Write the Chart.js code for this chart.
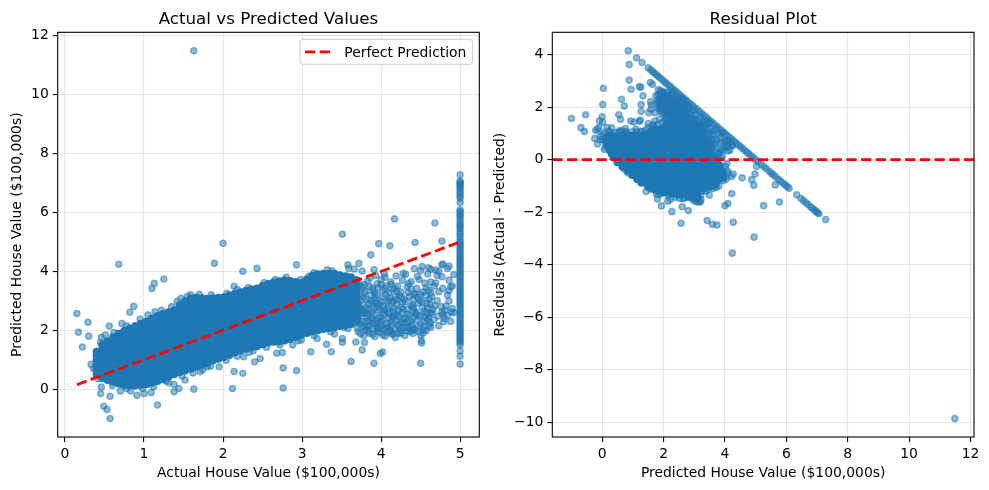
<!DOCTYPE html>
<html><head><meta charset="utf-8">
<script src="https://cdn.jsdelivr.net/npm/chart.js@4.4.1/dist/chart.umd.min.js"></script>
<style>html,body{margin:0;padding:0;background:#fff;overflow:hidden;width:989px;height:490px}
canvas{position:absolute;top:0}</style></head><body>
<canvas id="c1" width="484" height="490" style="left:0px"></canvas>
<canvas id="c2" width="505" height="490" style="left:484px"></canvas>
<script>
// ---------- DATA (values in $100,000s) ----------
// Dense cloud: each actual value column with the predicted values read in it
const bandActual = [0.40,0.47,0.54,0.61,0.68,0.75,0.82,0.89,0.96,1.03,1.10,1.17,1.24,1.31,1.38,1.45,1.52,1.59,1.66,1.73,1.80,1.87,1.94,2.01,2.08,2.15,2.22,2.29,2.36,2.43,2.50,2.57,2.64,2.71,2.78,2.85,2.92,2.99,3.06,3.13,3.20,3.27,3.34,3.41,3.48,3.55,3.62,3.69];
const bandPredicted = [
[0.50,0.66,0.82,0.98,1.14,1.27],
[0.38,0.54,0.70,0.86,1.02,1.18,1.34,1.50],
[0.31,0.47,0.63,0.79,0.95,1.11,1.27,1.45,1.63],
[0.25,0.41,0.57,0.73,0.89,1.05,1.21,1.37,1.53,1.69,1.76],
[0.19,0.35,0.51,0.67,0.83,0.99,1.15,1.31,1.47,1.63,1.79,1.88],
[0.14,0.30,0.46,0.62,0.78,0.94,1.10,1.26,1.42,1.58,1.74,1.90,1.97],
[0.12,0.28,0.44,0.60,0.76,0.92,1.08,1.24,1.40,1.56,1.72,1.88,2.06],
[0.12,0.28,0.44,0.60,0.76,0.92,1.08,1.24,1.40,1.56,1.72,1.88,2.02,2.14],
[0.14,0.30,0.46,0.62,0.78,0.94,1.10,1.26,1.42,1.58,1.74,1.90,2.06,2.22],
[0.17,0.33,0.49,0.65,0.81,0.97,1.13,1.29,1.45,1.61,1.77,1.93,2.09,2.29],
[0.22,0.38,0.54,0.70,0.86,1.02,1.18,1.34,1.50,1.66,1.82,1.98,2.14,2.30,2.40],
[0.28,0.44,0.60,0.76,0.92,1.08,1.24,1.40,1.56,1.72,1.88,2.04,2.20,2.36,2.48],
[0.34,0.50,0.66,0.82,0.98,1.14,1.30,1.46,1.62,1.78,1.94,2.10,2.26,2.42,2.55],
[0.43,0.59,0.75,0.91,1.07,1.23,1.39,1.55,1.71,1.87,2.03,2.19,2.35,2.51,2.61],
[0.51,0.67,0.83,0.99,1.15,1.31,1.47,1.63,1.79,1.95,2.11,2.27,2.43,2.59,2.68],
[0.58,0.74,0.90,1.06,1.22,1.38,1.54,1.70,1.86,2.02,2.18,2.34,2.50,2.66,2.85],
[0.63,0.79,0.95,1.11,1.27,1.43,1.59,1.75,1.91,2.07,2.23,2.39,2.55,2.71,2.87,2.98],
[0.69,0.85,1.01,1.17,1.33,1.49,1.65,1.81,1.97,2.13,2.29,2.45,2.61,2.77,2.93,3.08],
[0.76,0.92,1.08,1.24,1.40,1.56,1.72,1.88,2.04,2.20,2.36,2.52,2.68,2.84,3.00,3.10],
[0.82,0.98,1.14,1.30,1.46,1.62,1.78,1.94,2.10,2.26,2.42,2.58,2.74,2.90,3.09],
[0.88,1.04,1.20,1.36,1.52,1.68,1.84,2.00,2.16,2.32,2.48,2.64,2.80,2.96,3.07],
[0.97,1.13,1.29,1.45,1.61,1.77,1.93,2.09,2.25,2.41,2.57,2.73,2.89,3.09],
[1.03,1.19,1.35,1.51,1.67,1.83,1.99,2.15,2.31,2.47,2.63,2.79,2.95,3.10],
[1.09,1.25,1.41,1.57,1.73,1.89,2.05,2.21,2.37,2.53,2.69,2.85,3.01,3.12],
[1.16,1.32,1.48,1.64,1.80,1.96,2.12,2.28,2.44,2.60,2.76,2.92,3.08,3.18],
[1.24,1.40,1.56,1.72,1.88,2.04,2.20,2.36,2.52,2.68,2.84,3.00,3.16,3.24],
[1.31,1.47,1.63,1.79,1.95,2.11,2.27,2.43,2.59,2.75,2.91,3.07,3.29],
[1.37,1.53,1.69,1.85,2.01,2.17,2.33,2.49,2.65,2.81,2.97,3.13,3.34],
[1.42,1.58,1.74,1.90,2.06,2.22,2.38,2.54,2.70,2.86,3.02,3.18,3.38],
[1.46,1.62,1.78,1.94,2.10,2.26,2.42,2.58,2.74,2.90,3.06,3.22,3.42],
[1.52,1.68,1.84,2.00,2.16,2.32,2.48,2.64,2.80,2.96,3.12,3.28,3.44,3.50],
[1.58,1.74,1.90,2.06,2.22,2.38,2.54,2.70,2.86,3.02,3.18,3.34,3.57],
[1.61,1.77,1.93,2.09,2.25,2.41,2.57,2.73,2.89,3.05,3.21,3.37,3.53,3.62],
[1.62,1.78,1.94,2.10,2.26,2.42,2.58,2.74,2.90,3.06,3.22,3.38,3.54,3.66],
[1.65,1.81,1.97,2.13,2.29,2.45,2.61,2.77,2.93,3.09,3.25,3.41,3.57,3.70],
[1.70,1.86,2.02,2.18,2.34,2.50,2.66,2.82,2.98,3.14,3.30,3.46,3.67],
[1.77,1.93,2.09,2.25,2.41,2.57,2.73,2.89,3.05,3.21,3.37,3.53,3.64],
[1.85,2.01,2.17,2.33,2.49,2.65,2.81,2.97,3.13,3.29,3.45,3.60],
[1.91,2.07,2.23,2.39,2.55,2.71,2.87,3.03,3.19,3.35,3.51,3.72],
[1.96,2.12,2.28,2.44,2.60,2.76,2.92,3.08,3.24,3.40,3.56,3.72,3.84],
[2.00,2.16,2.32,2.48,2.64,2.80,2.96,3.12,3.28,3.44,3.60,3.76,3.90],
[2.04,2.20,2.36,2.52,2.68,2.84,3.00,3.16,3.32,3.48,3.64,3.80,3.92],
[2.07,2.23,2.39,2.55,2.71,2.87,3.03,3.19,3.35,3.51,3.67,3.83,3.92],
[2.10,2.26,2.42,2.58,2.74,2.90,3.06,3.22,3.38,3.54,3.70,3.92],
[2.14,2.30,2.46,2.62,2.78,2.94,3.10,3.26,3.42,3.58,3.74,3.87],
[2.17,2.33,2.49,2.65,2.81,2.97,3.13,3.29,3.45,3.61,3.83],
[2.21,2.37,2.53,2.69,2.85,3.01,3.17,3.33,3.49,3.65,3.80],
[2.30,2.46,2.62,2.78,2.94,3.10,3.26,3.42,3.58,3.70]
];
// Houses whose actual value is capped at 5.0: their predicted values
const cappedActual = 5.0;
const cappedPredicted = [0.85,1.12,1.30,1.50,1.58,1.64,1.70,1.76,1.82,1.88,1.95,2.02,2.08,2.15,2.22,2.28,2.35,2.42,2.49,2.55,2.62,2.69,2.76,2.83,2.90,2.97,3.04,3.11,3.18,3.25,3.32,3.39,3.46,3.53,3.60,3.67,3.74,3.81,3.88,3.95,4.02,4.09,4.16,4.23,4.30,4.37,4.44,4.51,4.58,4.65,4.72,4.79,4.86,4.93,5.00,5.08,5.18,5.27,5.35,5.45,5.52,5.58,5.66,5.75,5.83,5.90,5.97,6.03,6.09,6.34,6.48,6.56,6.64,6.71,6.80,6.86,6.92,6.97,7.02,7.06,7.28];
// Scattered houses [actual, predicted]
const lowerScatter = [[0.15,2.57],[0.17,1.93],[0.22,1.43],[0.29,2.27],[0.30,1.80],[0.33,0.84],[0.36,0.70],[0.46,1.76],[0.51,1.84],[0.56,2.14],[0.72,2.23],[0.82,2.61],[0.87,2.81],[1.14,2.63],
[0.49,-0.58],[0.53,-0.69],[0.57,-1.00],[1.17,-0.54],[0.45,-0.15],[0.57,-0.24],[0.46,0.07],[0.70,-0.06],[0.83,-0.06],[0.91,-0.21],[1.00,-0.15],[1.09,-0.12],[1.38,-0.09],[1.38,0.16],[1.31,0.22],[1.52,0.31],[1.63,0.00],[1.44,0.02],[2.12,0.02],[2.14,0.60],[2.25,0.54],[1.71,0.59],[1.74,0.66],[1.80,0.76],[1.95,0.76],[1.89,1.10],[2.26,1.10],[2.40,0.93],[2.47,1.04],[2.33,1.25],[2.76,0.04],[2.76,0.72],[2.93,0.63],[2.68,1.22],[2.75,1.24],[2.88,1.50],[2.99,1.67],[3.11,1.27],[3.19,1.72],[3.31,1.52],[3.37,1.27],[3.51,1.72],[3.53,2.10],[3.41,1.87],[3.51,1.59],[3.68,1.60],[3.79,1.58],[3.76,1.33],[4.02,1.26],[3.99,1.21],[3.62,0.94],[3.91,0.88],[4.50,0.88],[4.51,1.57],[4.51,1.64],[4.12,1.95],[4.25,1.90],[4.39,2.00],[4.54,2.00],[3.95,2.06],[3.80,2.12],[4.14,1.86],[4.40,1.89],[4.50,1.83]];
const upperScatter = [[0.68,4.24],[1.10,3.42],[1.13,3.59],[1.25,3.74],[1.47,3.08],[1.59,3.20],[1.63,11.49],[1.89,4.27],[2.00,4.95],[2.14,3.49],[2.25,4.00],[2.43,4.10],[2.93,4.22],[3.09,3.84],[3.32,4.05],[3.59,4.10],[3.51,5.26],[3.72,4.27],[3.87,4.56],[3.97,4.94],[4.11,4.87],[4.17,5.78],[4.43,4.98],[4.68,5.64],[4.77,5.03],[3.58,4.22]];
const bandEdgeScatter = [[0.45,1.58],[0.62,1.92],[0.78,2.15],[0.95,2.38],[1.05,2.52],[1.22,2.68],[1.35,2.80],[1.42,2.98],[1.55,3.15],[1.70,3.22],[1.85,3.20],[2.05,3.25],[2.18,3.38],[2.32,3.45],[2.52,3.62],[2.66,3.72],[2.80,3.80],[2.98,3.72],[3.15,3.95],[3.38,4.02],
[0.42,0.35],[0.60,0.12],[0.78,0.02],[0.98,0.02],[1.12,0.08],[1.28,0.28],[1.48,0.45],[1.62,0.55],[1.84,0.78],[2.04,0.98],[2.18,1.12],[2.38,1.30],[2.55,1.42],[2.72,1.50],[2.95,1.64],[3.15,1.82],[3.36,1.95],[3.58,2.05]];
const highValueScatter = [[4.78,4.25],[4.86,4.18],
[3.66,4.08],[3.76,4.01],[3.91,4.06],[4.42,4.09],[4.50,4.02],[4.63,4.07],[4.73,4.00],[4.84,4.10],
[3.93,3.86],[4.04,3.92],[4.19,3.84],[4.31,3.90],[4.46,3.83],[4.59,3.91],[4.71,3.86],[4.92,3.89],
[3.83,3.67],[4.00,3.72],[4.12,3.64],[4.27,3.70],[4.38,3.65],[4.48,3.72],[4.63,3.64],[4.86,3.70],
[3.76,3.47],[3.89,3.43],[4.06,3.50],[4.17,3.42],[4.33,3.48],[4.57,3.44],[4.67,3.50],[4.78,3.42],[4.88,3.47],
[3.79,3.26],[3.95,3.20],[4.10,3.27],[4.23,3.19],[4.42,3.25],[4.50,3.21],[4.63,3.27],[4.84,3.20],
[3.74,3.02],[3.87,2.99],[4.00,2.97],[4.19,3.03],[4.31,2.97],[4.40,3.04],[4.52,2.96],[4.71,3.01],[4.86,2.99],
[3.72,2.80],[3.81,2.76],[3.95,2.79],[4.08,2.74],[4.25,2.78],[4.38,2.82],[4.59,2.75],[4.76,2.80],[4.90,2.74],
[3.79,2.57],[3.91,2.53],[4.04,2.56],[4.17,2.51],[4.27,2.58],[4.44,2.55],[4.50,2.50],[4.63,2.57],[4.78,2.54],[4.84,2.50],
[3.76,2.30],[3.87,2.35],[4.00,2.28],[4.14,2.36],[4.38,2.29],[4.59,2.35],
[3.70,2.08],[3.83,2.14],[4.06,2.07],[4.23,2.13],[4.35,2.06],[4.54,2.12],[4.63,2.10],
[4.69,3.60],[4.73,3.31],[4.86,3.33],[4.90,3.50],[4.77,3.82],[4.82,2.82],[4.92,2.59],[4.64,3.14],[4.68,2.83],[4.77,4.22],[4.69,4.04],[4.60,4.12],[4.52,4.16],[4.79,2.29],[4.77,2.62],
[3.73,3.55],[3.78,3.12],[3.85,2.92],[3.74,2.65],[3.82,2.44],[3.90,3.35],[3.86,3.78],[3.95,3.58],[3.98,2.67],[4.02,3.12],[3.93,2.22],[4.05,3.80],[4.09,2.42],[4.13,3.56],[4.15,2.97],[4.20,3.32],[4.22,2.68],[4.28,3.93],[4.30,2.25],[4.35,3.58],[4.36,3.15],[4.41,2.66],[4.45,3.42],[4.47,2.92],[4.55,3.60],[4.56,2.42],[4.60,3.36],[4.62,2.88]];
const midHighScatter = [[3.71,1.95],[3.73,2.22],[3.72,2.48],[3.75,2.70],[3.71,2.93],[3.74,3.18],[3.72,3.40],
[3.78,1.82],[3.80,2.02],[3.79,2.29],[3.81,2.61],[3.78,2.85],[3.82,3.05],[3.80,3.33],[3.79,3.55],
[3.85,1.90],[3.86,2.15],[3.88,2.42],[3.84,2.69],[3.87,3.20],[3.85,3.48],
[3.92,1.78],[3.90,2.05],[3.94,2.30],[3.91,2.75],[3.93,3.02],[3.92,3.27],[3.96,3.45],
[3.98,1.92],[4.00,2.15],[3.99,2.43],[4.01,2.60],[3.98,2.88],[4.02,3.35],[4.00,3.55],
[4.05,1.80],[4.07,2.22],[4.04,2.70],[4.08,2.95],[4.06,3.20],[4.05,3.42],
[4.11,1.98],[4.12,2.25],[4.10,2.55],[4.13,2.84],[4.11,3.10],[4.14,3.38],
[4.18,1.75],[4.17,2.05],[4.19,2.33],[4.16,2.62],[4.20,2.90],[4.18,3.14],[4.21,3.50],
[4.24,1.98],[4.26,2.25],[4.23,2.45],[4.27,2.95],[4.25,3.30],
[4.30,1.82],[4.32,2.10],[4.31,2.40],[4.33,2.72],[4.29,3.05],[4.34,3.28],
[4.37,1.95],[4.39,2.18],[4.36,2.50],[4.40,2.85],[4.38,3.40],
[4.43,2.02],[4.45,2.35],[4.44,2.62],[4.46,3.12],
[4.50,2.20],[4.52,2.75],[4.49,3.00],[4.53,3.30],
[4.57,1.98],[4.58,2.58],[4.56,3.18],
[4.62,2.25],[4.64,2.60],[4.61,3.05]];
const lowHighScatter = [[3.74,1.88],[3.77,2.12],[3.76,2.58],[3.83,1.98],[3.84,2.32],[3.83,2.55],[3.89,1.86],[3.90,2.25],[3.89,2.62],[3.89,2.88],[3.95,1.98],[3.96,2.40],[3.97,2.10],[3.94,2.92],[4.02,1.85],[4.03,2.05],[4.02,2.35],[4.03,2.82],[4.08,2.12],[4.09,2.62],[4.08,1.92],[4.14,2.15],[4.15,2.45],[4.16,2.74],[4.15,1.88],[4.21,2.20],[4.20,2.52],[4.22,1.90],[4.27,2.08],[4.28,2.38],[4.28,2.72],[4.33,1.98],[4.34,2.28],[4.33,2.55],[4.40,2.06],[4.41,2.42],[4.41,2.76],[4.47,2.12],[4.48,2.48],[4.47,1.95],[4.54,2.30],[4.55,2.65],[4.53,1.90],[4.60,2.45],[4.61,2.15],[4.67,2.35],[4.66,2.70],[4.72,2.48],[4.73,2.15],[4.80,2.40],[4.81,2.68],[4.88,2.30],[4.89,2.62],[3.70,2.36],[3.72,2.62],[3.92,3.12],[4.10,3.00],[4.26,3.10],[4.43,3.20],[4.58,2.92]];

// Tick values
const leftXTicks = [0,1,2,3,4,5];
const leftYTicks = [0,2,4,6,8,10,12];
const rightXTicks = [0,2,4,6,8,10,12];
const rightYTicks = [-10,-8,-6,-4,-2,0,2,4];

// Texts
const leftTitle = 'Actual vs Predicted Values';
const rightTitle = 'Residual Plot';
const leftXLabel = 'Actual House Value ($100,000s)';
const leftYLabel = 'Predicted House Value ($100,000s)';
const rightXLabel = 'Predicted House Value ($100,000s)';
const rightYLabel = 'Residuals (Actual - Predicted)';
const lineLabel = 'Perfect Prediction';

// ---------- BUILD ----------
const bandRecs = [];
bandActual.forEach((a, i) => bandPredicted[i].forEach(p => bandRecs.push([a, p])));
const otherRecs = [].concat(lowerScatter, upperScatter, bandEdgeScatter, highValueScatter, midHighScatter,
                            lowHighScatter, cappedPredicted.map(p => [cappedActual, p]));
const allRecs = bandRecs.concat(otherRecs);

const toLeft = r => ({x: r[0], y: r[1]});
const toRight = r => ({x: r[1], y: r[0] - r[1]});

function padded(vals) {
  const mn = Math.min(...vals), mx = Math.max(...vals), m = (mx - mn) * 0.05;
  return [mn - m, mx + m];
}
const actualAll = allRecs.map(r => r[0]);
const predAll = allRecs.map(r => r[1]);
const residAll = allRecs.map(r => r[0] - r[1]);
const rangeLX = padded(actualAll), rangeLY = padded(predAll);
const rangeRX = padded(predAll), rangeRY = padded(residAll);
const aMin = Math.min(...actualAll), aMax = Math.max(...actualAll);

const BLUE_A = 'rgba(31,119,180,0.5)';
const BLUE_B = 'rgb(31,119,180)';
const RED = '#ff0000';
const FONT = '"DejaVu Sans", "Liberation Sans", sans-serif';

const fmt = v => (v < 0 ? '\u2212' + (-v) : String(v));

function axis(range, ticks, isX, fitSize) {
  return {
    type: 'linear', min: range[0], max: range[1],
    afterBuildTicks: s => { s.ticks = ticks.map(v => ({value: v})); },
    afterFit: s => {
      if (isX) { s.height = fitSize; } else { s.width = fitSize; }
      s.paddingLeft = 0; s.paddingRight = 0; s.paddingTop = 0; s.paddingBottom = 0;
    },
    ticks: { font: {family: FONT, size: 13.9}, color: '#000', padding: 4, callback: fmt,
             maxRotation: 0, minRotation: 0, autoSkip: false, includeBounds: false },
    grid: { color: 'rgba(176,176,176,0.3)', lineWidth: 1.1, tickColor: '#000', tickLength: 4.9,
            tickWidth: 1.1, drawTicks: true },
    border: { display: false }
  };
}

const mplPlugin = {
  id: 'mpl',
  afterDatasetsDraw(chart) {
    const {ctx, chartArea: a} = chart;
    ctx.save();
    ctx.strokeStyle = '#000'; ctx.lineWidth = 1.1;
    ctx.strokeRect(a.left, a.top, a.right - a.left, a.bottom - a.top);
    ctx.restore();
  },
  afterDraw(chart, args, o) {
    const {ctx, chartArea: a} = chart;
    const cx = (a.left + a.right) / 2, cy = (a.top + a.bottom) / 2;
    ctx.save();
    ctx.fillStyle = '#000';
    ctx.textAlign = 'center'; ctx.textBaseline = 'alphabetic';
    ctx.font = '16.7px ' + FONT;
    ctx.fillText(o.title, cx, a.top - 8.3);
    ctx.font = '13.9px ' + FONT;
    ctx.fillText(o.xLabel, cx, 476.5);
    ctx.save(); ctx.translate(o.yLabelX, cy); ctx.rotate(-Math.PI / 2);
    ctx.fillText(o.yLabel, 0, 0); ctx.restore();
    if (o.legend) {
      const ds = chart.data.datasets.find(d => d.label === lineLabel);
      const bx = a.right - 179.3, by = a.top + 7, bw = 172.7, bh = 25, r = 3;
      ctx.beginPath();
      ctx.moveTo(bx + r, by); ctx.lineTo(bx + bw - r, by); ctx.arcTo(bx + bw, by, bx + bw, by + r, r);
      ctx.lineTo(bx + bw, by + bh - r); ctx.arcTo(bx + bw, by + bh, bx + bw - r, by + bh, r);
      ctx.lineTo(bx + r, by + bh); ctx.arcTo(bx, by + bh, bx, by + bh - r, r);
      ctx.lineTo(bx, by + r); ctx.arcTo(bx, by, bx + r, by, r); ctx.closePath();
      ctx.fillStyle = 'rgba(255,255,255,0.8)'; ctx.fill();
      ctx.strokeStyle = '#cccccc'; ctx.lineWidth = 1; ctx.stroke();
      ctx.beginPath(); ctx.setLineDash(ds.borderDash); ctx.lineCap = 'butt';
      ctx.strokeStyle = ds.borderColor; ctx.lineWidth = ds.borderWidth;
      ctx.moveTo(bx + 5, by + 12.5); ctx.lineTo(bx + 30.7, by + 12.5); ctx.stroke();
      ctx.setLineDash([]);
      ctx.fillStyle = '#000'; ctx.textAlign = 'left';
      ctx.fillText(ds.label, bx + 44.3, by + 17.4);
    }
    ctx.restore();
  }
};

const pointStyleA = { backgroundColor: BLUE_A, borderColor: BLUE_A, pointRadius: 3.1, borderWidth: 1.4, pointHoverRadius: 3.1 };
const pointStyleB = { backgroundColor: BLUE_B, borderColor: BLUE_B, pointRadius: 4.0, borderWidth: 0, pointHoverRadius: 4.0 };

function makeChart(id, cfg) {
  return new Chart(document.getElementById(id), {
    type: 'scatter',
    data: { datasets: cfg.datasets },
    options: {
      responsive: false, animation: false, events: [],
      layout: { padding: { left: 0, top: 32.3, right: cfg.padRight, bottom: 0 }, autoPadding: false },
      plugins: { legend: { display: false }, tooltip: { enabled: false }, title: { display: false }, mpl: cfg.text },
      scales: {
        x: axis(cfg.xRange, cfg.xTicks, true, 53),
        y: axis(cfg.yRange, cfg.yTicks, false, cfg.yWidth)
      }
    },
    plugins: [mplPlugin]
  });
}

makeChart('c1', {
  padRight: 484 - 479.3, yWidth: 57.7,
  xRange: rangeLX, yRange: rangeLY, xTicks: leftXTicks, yTicks: leftYTicks,
  text: { title: leftTitle, xLabel: leftXLabel, yLabel: leftYLabel, yLabelX: 20.7, legend: true },
  datasets: [
    { type: 'line', label: lineLabel, data: [{x: aMin, y: aMin}, {x: aMax, y: aMax}],
      borderColor: RED, borderWidth: 2.78, borderDash: [10.3, 4.4], pointRadius: 0, fill: false, order: 0 },
    Object.assign({ label: 'pts', data: otherRecs.map(toLeft), order: 1 }, pointStyleA),
    Object.assign({ label: 'dense', data: bandRecs.map(toLeft), order: 2 }, pointStyleB)
  ]
});

makeChart('c2', {
  padRight: 505 - 490, yWidth: 68.3,
  xRange: rangeRX, yRange: rangeRY, xTicks: rightXTicks, yTicks: rightYTicks,
  text: { title: rightTitle, xLabel: rightXLabel, yLabel: rightYLabel, yLabelX: 19.9, legend: false },
  datasets: [
    { type: 'line', label: 'zero', data: [{x: rangeRX[0], y: 0}, {x: rangeRX[1], y: 0}],
      borderColor: RED, borderWidth: 2.78, borderDash: [10.3, 4.4], pointRadius: 0, fill: false, order: 0 },
    Object.assign({ label: 'pts', data: otherRecs.map(toRight), order: 1 }, pointStyleA),
    Object.assign({ label: 'dense', data: bandRecs.map(toRight), order: 2 }, pointStyleB)
  ]
});
</script>
</body></html>
